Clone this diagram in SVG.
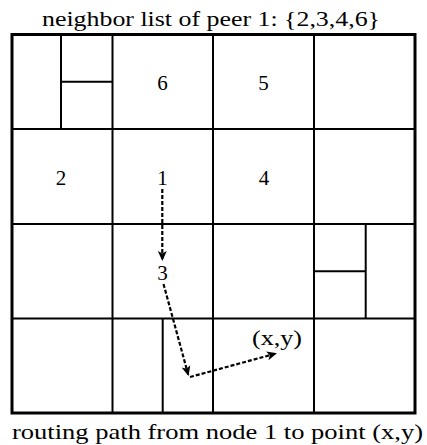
<svg xmlns="http://www.w3.org/2000/svg" width="427" height="445" viewBox="0 0 427 445">
<style>
.t{font-family:"Liberation Serif","DejaVu Serif",serif;fill:#000}
.lbl{font-size:21px;text-anchor:middle}
.cap{font-size:22px;text-anchor:middle}
.g{stroke:#000;stroke-width:2;fill:none}
.o{stroke:#000;stroke-width:3;fill:none}
.c{stroke:#000;stroke-width:2.2;stroke-dasharray:4,2;fill:none;marker-end:url(#ah)}
</style>
<defs>
<marker id="ah" markerWidth="12" markerHeight="12" refX="9" refY="6" orient="auto" markerUnits="userSpaceOnUse">
<path d="M0,1.5 L10,6 L0,10.5 L2.5,6 Z" fill="#000"/>
</marker>
</defs>
<rect width="427" height="445" fill="#fff"/>
<text class="t cap" x="211" y="25.5" textLength="338" lengthAdjust="spacingAndGlyphs">neighbor list of peer 1:  {2,3,4,6}</text>
<g id="grid">
<line class="g" x1="112.5" y1="34.5" x2="112.5" y2="413"/>
<line class="g" x1="213" y1="34.5" x2="213" y2="413"/>
<line class="g" x1="314" y1="34.5" x2="314" y2="413"/>
<line class="g" x1="12" y1="129" x2="415" y2="129"/>
<line class="g" x1="12" y1="224" x2="415" y2="224"/>
<line class="g" x1="12" y1="318.5" x2="415" y2="318.5"/>
<line class="g" x1="61" y1="34.5" x2="61" y2="129"/>
<line class="g" x1="61" y1="81.7" x2="112.5" y2="81.7"/>
<line class="g" x1="365.7" y1="224" x2="365.7" y2="318.5"/>
<line class="g" x1="314" y1="271.3" x2="365.7" y2="271.3"/>
<line class="g" x1="162.7" y1="318.5" x2="162.7" y2="413"/>
<rect class="o" x="12" y="34.5" width="403" height="378.5"/>
</g>
<g id="n6"><text class="t lbl" x="162.5" y="89.5">6</text></g>
<g id="n5"><text class="t lbl" x="263.5" y="89.5">5</text></g>
<g id="n2"><text class="t lbl" x="61" y="184.5">2</text></g>
<g id="n1"><text class="t lbl" x="162.5" y="184.5">1</text></g>
<g id="n4"><text class="t lbl" x="264" y="184.5">4</text></g>
<g id="n3"><text class="t lbl" x="162.5" y="279.5">3</text></g>
<g id="pxy"><text class="t lbl" x="277" y="344.5" textLength="50" lengthAdjust="spacingAndGlyphs">(x,y)</text></g>
<g id="connectors">
<path class="c" d="M162.3,189 L162.3,260"/>
<path class="c" d="M163.5,284 L188.3,375"/>
<path class="c" d="M190,377 L276,353.5"/>
</g>
<text class="t cap" x="217.5" y="439" textLength="411" lengthAdjust="spacingAndGlyphs">routing path from node 1 to point (x,y)</text>
</svg>
